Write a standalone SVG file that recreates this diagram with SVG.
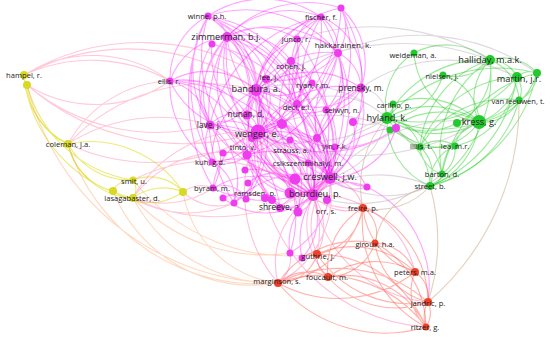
<svg xmlns="http://www.w3.org/2000/svg" width="550" height="337" viewBox="0 0 550 337">
<style>
#edges path{fill:none;stroke-width:1.1}
.p{stroke:#f0f;stroke-opacity:.36}
.g{stroke:#2c2;stroke-opacity:.45}
.y{stroke:#dd2;stroke-opacity:.6}
.r{stroke:#f54;stroke-opacity:.45}
.py{stroke:#f8a;stroke-opacity:.45}
.pr{stroke:#f6a;stroke-opacity:.42}
.pg{stroke:#a9a;stroke-opacity:.38}
.rg{stroke:#ca8;stroke-opacity:.55}
.np{fill:#ee3cee}
.ng{fill:#24c92e}
.ny{fill:#d9d823}
.nr{fill:#ef4129}
text{font-family:"Open Sans","Noto Sans",sans-serif;fill:#222;text-anchor:middle;font-size:7.6px}
.b{font-size:9.2px}
.m{font-size:8.4px}
</style>
<rect width="550" height="337" fill="#fff"/>
<g id="edges">
<path class="p" d="M208 16A26 26 0 0 1 227 37M208 16A80 80 0 0 1 256 90M208 16A115 115 0 0 1 258 132M208 16A180 180 0 0 1 330 178M208 16A185 185 0 0 1 313 195M208 16A95 95 0 0 1 247 115M210 125A100 100 0 0 1 208 16M208 16A100 100 0 0 1 321 17M208 16A120 120 0 0 1 338 53M247 155A130 130 0 0 1 208 16M208 16A130 130 0 0 1 317 138M212 162A150 150 0 0 1 208 16M213 188A180 180 0 0 1 208 16"/>
<path class="p" d="M227 37A85 85 0 0 1 321 17M321 17A40 40 0 0 1 338 53M297 39A30 30 0 0 1 321 17M256 90A88 88 0 0 1 321 17M321 17A118 118 0 0 1 258 132M330 178A145 145 0 0 1 321 17M321 17A160 160 0 0 1 313 195M321 17A65 65 0 0 1 361 88M297 104A80 80 0 0 1 321 17M247 155A150 150 0 0 1 321 17M210 125A140 140 0 0 1 321 17"/>
<path class="p" d="M341 8A45 45 0 0 1 338 53M341 8A75 75 0 0 1 361 88M256 90A110 110 0 0 1 341 8M341 8A140 140 0 0 1 258 132M227 37A110 110 0 0 1 341 8M341 8A120 120 0 0 1 317 138M341 8A150 150 0 0 1 330 178"/>
<path class="p" d="M227 37A50 50 0 0 1 256 90M258 132A90 90 0 0 1 227 37M210 125A80 80 0 0 1 227 37M227 37A75 75 0 0 1 247 115M227 37A50 50 0 0 1 266 79M227 37A60 60 0 0 1 291 61M227 37A65 65 0 0 1 297 39M227 37A100 100 0 0 1 338 53M227 37A150 150 0 0 1 330 178M313 195A160 160 0 0 1 227 37M247 155A105 105 0 0 1 227 37M227 37A80 80 0 0 1 297 104M170 81A65 65 0 0 1 227 37M212 162A115 115 0 0 1 227 37M212 44A55 55 0 0 1 256 90M258 132A90 90 0 0 1 212 44M212 44A160 160 0 0 1 330 178M210 125A75 75 0 0 1 212 44M234 203A170 170 0 0 1 227 37M317 138A120 120 0 0 1 227 37"/>
<path class="p" d="M256 90A60 60 0 0 1 297 39M297 39A40 40 0 0 1 338 53M297 39A25 25 0 0 1 291 61M297 39A95 95 0 0 1 258 132M330 178A130 130 0 0 1 297 39M297 39A145 145 0 0 1 313 195M297 39A120 120 0 0 1 247 155"/>
<path class="p" d="M338 53A40 40 0 0 1 361 88M256 90A85 85 0 0 1 338 53M338 53A110 110 0 0 1 258 132M330 178A115 115 0 0 1 338 53M338 53A130 130 0 0 1 313 195M338 53A55 55 0 0 1 326 110M297 104A60 60 0 0 1 338 53M338 53A75 75 0 0 1 266 79M338 53A80 80 0 0 1 317 138M338 53A130 130 0 0 1 247 155"/>
<path class="p" d="M291 61A45 45 0 0 1 256 90M258 132A75 75 0 0 1 291 61M291 61A28 28 0 0 1 312 83M291 61A40 40 0 0 1 297 104M291 61A110 110 0 0 1 330 178M313 195A120 120 0 0 1 291 61M266 79A15 15 0 0 1 256 90M266 79A50 50 0 0 1 258 132M330 178A100 100 0 0 1 266 79M266 79A110 110 0 0 1 313 195"/>
<path class="p" d="M256 90A40 40 0 0 1 258 132M247 115A25 25 0 0 1 256 90M256 90A50 50 0 0 1 210 125M256 90A100 100 0 0 1 330 178M313 195A110 110 0 0 1 256 90M256 90A60 60 0 0 1 247 155M256 90A40 40 0 0 1 297 104M312 83A50 50 0 0 1 256 90M256 90A90 90 0 0 1 361 88M256 90A75 75 0 0 1 317 138M326 110A65 65 0 0 1 256 90M170 81A75 75 0 0 1 256 90M212 162A75 75 0 0 1 256 90M256 90A120 120 0 0 1 298 212M308 163A80 80 0 0 1 256 90M256 90A100 100 0 0 1 246 199M280 208A110 110 0 0 1 256 90"/>
<path class="p" d="M312 83A25 25 0 0 1 297 104M312 83A70 70 0 0 1 258 132M312 83A90 90 0 0 1 330 178M258 132A100 100 0 0 1 361 88M361 88A85 85 0 0 1 330 178M313 195A100 100 0 0 1 361 88M361 88A35 35 0 0 1 326 110M361 88A30 30 0 0 1 353 122M361 88A60 60 0 0 1 297 104M317 138A60 60 0 0 1 361 88M297 104A70 70 0 0 1 330 178M297 104A40 40 0 0 1 258 132M326 110A80 80 0 0 1 313 195"/>
<path class="p" d="M170 81A55 55 0 0 1 210 125M258 132A90 90 0 0 1 170 81M170 81A155 155 0 0 1 313 195M170 81A165 165 0 0 1 330 178M170 81A70 70 0 0 1 208 16M170 81A75 75 0 0 1 247 115M170 81A90 90 0 0 1 247 155M212 162A90 90 0 0 1 170 81"/>
<path class="p" d="M247 115A20 20 0 0 1 258 132M210 125A35 35 0 0 1 247 115M247 115A95 95 0 0 1 330 178M313 195A90 90 0 0 1 247 115M210 125A45 45 0 0 1 258 132M210 125A40 40 0 0 1 247 155M210 125A110 110 0 0 1 313 195M330 178A120 120 0 0 1 210 125M212 162A35 35 0 0 1 210 125M210 125A60 60 0 0 1 213 188M210 125A70 70 0 0 1 234 203M210 125A100 100 0 0 1 280 208"/>
<path class="p" d="M258 132A75 75 0 0 1 330 178M313 195A75 75 0 0 1 258 132M258 132A22 22 0 0 1 247 155M317 138A55 55 0 0 1 258 132M258 132A55 55 0 0 1 308 163M258 132A75 75 0 0 1 298 212M280 208A70 70 0 0 1 258 132M258 132A60 60 0 0 1 234 203M213 188A65 65 0 0 1 258 132M258 132A50 50 0 0 1 212 162M258 132A25 25 0 0 1 282 124M258 132A110 110 0 0 1 367 187M258 132A115 115 0 0 1 290 253"/>
<path class="p" d="M247 155A80 80 0 0 1 330 178M313 195A70 70 0 0 1 247 155M247 155A35 35 0 0 1 212 162M247 155A40 40 0 0 1 246 199M317 138A40 40 0 0 1 330 178M313 195A55 55 0 0 1 317 138M298 212A70 70 0 0 1 247 155M212 162A100 100 0 0 1 313 195M282 124A70 70 0 0 1 313 195"/>
<path class="p" d="M330 178A25 25 0 0 1 313 195M298 212A45 45 0 0 1 330 178M330 178A55 55 0 0 1 280 208M330 178A80 80 0 0 1 290 253M367 187A35 35 0 0 1 330 178M234 203A95 95 0 0 1 330 178M330 178A110 110 0 0 1 213 188M313 195A20 20 0 0 1 298 212M280 208A35 35 0 0 1 313 195M313 195A60 60 0 0 1 302 258M290 253A60 60 0 0 1 313 195M313 195A70 70 0 0 1 223 198M213 188A90 90 0 0 1 313 195M313 195A50 50 0 0 1 367 187M308 163A35 35 0 0 1 313 195M290 193A50 50 0 0 1 247 155M308 163A25 25 0 0 1 330 178M212 162A40 40 0 0 1 234 203M213 188A25 25 0 0 1 246 199M302 258A80 80 0 0 1 330 178M367 187A55 55 0 0 1 317 138M367 187A110 110 0 0 1 428 302"/>
<path class="p" d="M282 124A60 60 0 0 1 330 178M282 124A45 45 0 0 1 256 90M290 140A50 50 0 0 1 313 195M252 138A60 60 0 0 1 290 193M223 153A60 60 0 0 1 290 193M245 170A45 45 0 0 1 298 212M248 183A40 40 0 0 1 295 179M223 198A50 50 0 0 1 265 198M295 179A40 40 0 0 1 258 132M353 122A50 50 0 0 1 330 178M335 147A40 40 0 0 1 290 193M396 128A120 120 0 0 1 258 132M396 128A70 70 0 0 1 330 178M313 195A90 90 0 0 1 396 128M396 128A90 90 0 0 1 256 90"/>
<path class="pg" d="M387 118A140 140 0 0 1 258 132M256 90A140 140 0 0 1 387 118M387 118A80 80 0 0 1 330 178M313 195A100 100 0 0 1 387 118M479 122A230 230 0 0 1 258 132M330 178A170 170 0 0 1 479 122M256 90A250 250 0 0 1 490 60M430 186A100 100 0 0 1 330 178M313 195A120 120 0 0 1 430 186M258 132A150 150 0 0 1 420 147M442 174A130 130 0 0 1 313 195M361 88A30 30 0 0 1 387 118M387 118A35 35 0 0 1 353 122M297 104A80 80 0 0 1 387 118M338 53A200 200 0 0 1 537 73M297 39A230 230 0 0 1 490 60M361 88A150 150 0 0 1 517 77"/>
<path class="g" d="M490 60A30 30 0 0 1 517 77M490 60A45 45 0 0 1 537 73M479 122A55 55 0 0 1 490 60M490 60A45 45 0 0 1 519 100M387 118A110 110 0 0 1 490 60M414 53A70 70 0 0 1 490 60M490 60A45 45 0 0 1 443 75M420 147A100 100 0 0 1 490 60M490 60A130 130 0 0 1 430 186M442 174A110 110 0 0 1 490 60M490 60A60 60 0 0 1 457 123"/>
<path class="g" d="M517 77A55 55 0 0 1 479 122M517 77A22 22 0 0 1 519 100M517 77A130 130 0 0 1 387 118M517 77A20 20 0 0 1 537 73M420 147A110 110 0 0 1 517 77M517 77A140 140 0 0 1 430 186M517 77A80 80 0 0 1 455 146M537 73A70 70 0 0 1 479 122M537 73A30 30 0 0 1 519 100M387 118A150 150 0 0 1 537 73M537 73A150 150 0 0 1 430 186M442 174A130 130 0 0 1 537 73"/>
<path class="g" d="M519 100A40 40 0 0 1 479 122M519 100A125 125 0 0 1 387 118M420 147A100 100 0 0 1 519 100M519 100A120 120 0 0 1 430 186M387 118A85 85 0 0 1 479 122M479 122A85 85 0 0 1 387 118M479 122A60 60 0 0 1 420 147M455 146A30 30 0 0 1 479 122M479 122A75 75 0 0 1 430 186M442 174A60 60 0 0 1 479 122M457 123A20 20 0 0 1 479 122M457 123A65 65 0 0 1 387 118"/>
<path class="g" d="M420 147A30 30 0 0 1 455 146M420 147A35 35 0 0 1 430 186M442 174A30 30 0 0 1 420 147M455 146A30 30 0 0 1 442 174M430 186A40 40 0 0 1 455 146M387 118A40 40 0 0 1 420 147M430 186A70 70 0 0 1 387 118M393 104A15 15 0 0 1 387 118M443 75A60 60 0 0 1 387 118M387 118A60 60 0 0 1 414 53M393 104A80 80 0 0 1 479 122M443 75A50 50 0 0 1 479 122M479 122A75 75 0 0 1 414 53M442 174A14 14 0 0 1 430 186M387 118A70 70 0 0 1 442 174M390 130A80 80 0 0 1 479 122M390 130A60 60 0 0 1 430 186M420 147A40 40 0 0 1 393 104M455 146A65 65 0 0 1 387 118"/>
<path class="r" d="M363 208A30 30 0 0 1 375 243M415 272A75 75 0 0 1 363 208M363 208A100 100 0 0 1 428 302M426 327A120 120 0 0 1 363 208M363 208A100 100 0 0 1 278 283M328 277A70 70 0 0 1 363 208M363 208A55 55 0 0 1 317 254M375 243A45 45 0 0 1 415 272M428 302A70 70 0 0 1 375 243M375 243A95 95 0 0 1 426 327M278 283A95 95 0 0 1 375 243M375 243A50 50 0 0 1 328 277"/>
<path class="r" d="M317 254A40 40 0 0 1 278 283M328 277A25 25 0 0 1 317 254M317 254A90 90 0 0 1 415 272M428 302A110 110 0 0 1 317 254M317 254A120 120 0 0 1 426 327M278 283A45 45 0 0 1 328 277M415 272A125 125 0 0 1 278 283M278 283A135 135 0 0 1 428 302M426 327A140 140 0 0 1 278 283M278 283A130 130 0 0 1 426 327M328 277A80 80 0 0 1 415 272M428 302A90 90 0 0 1 328 277M328 277A90 90 0 0 1 426 327M415 272A30 30 0 0 1 428 302M426 327A50 50 0 0 1 415 272M428 302A25 25 0 0 1 426 327"/>
<path class="r" d="M426 327A30 30 0 0 1 428 302" stroke-width="2"/>
<path class="pr" d="M278 283A80 80 0 0 1 313 195M330 178A100 100 0 0 1 278 283M278 283A140 140 0 0 1 258 132M313 195A55 55 0 0 1 317 254M258 132A110 110 0 0 1 317 254M317 254A70 70 0 0 1 330 178M330 178A40 40 0 0 1 363 208M363 208A45 45 0 0 1 313 195M363 208A100 100 0 0 1 258 132M328 277A75 75 0 0 1 313 195M313 195A100 100 0 0 1 415 272M426 327A180 180 0 0 1 258 132M428 302A130 130 0 0 1 313 195M290 253A30 30 0 0 1 278 283M302 258A15 15 0 0 1 317 254"/>
<path class="rg" d="M430 186A200 200 0 0 1 428 302M519 100A260 260 0 0 1 428 302M430 186A70 70 0 0 1 363 208M363 208A100 100 0 0 1 387 118M375 243A70 70 0 0 1 430 186"/>
<path class="y" d="M68 144A70 70 0 0 1 27 85" stroke-width="2.6"/>
<path class="y" d="M133 198A70 70 0 0 1 68 144" stroke-width="2"/>
<path class="y" d="M68 144A80 80 0 0 1 24 75M133 180A70 70 0 0 1 68 144M113 191A60 60 0 0 1 68 144M133 198A140 140 0 0 1 24 75M133 180A130 130 0 0 1 27 85M133 180A15 15 0 0 1 133 198M133 198A50 50 0 0 1 183 192M133 180A45 45 0 0 1 183 192M183 192A60 60 0 0 1 113 191M68 144A110 110 0 0 1 183 192M113 191A20 20 0 0 1 133 180"/>
<path class="py" d="M24 75A130 130 0 0 1 170 81M24 75A160 160 0 0 1 170 81M24 75A230 230 0 0 1 266 79M24 75A220 220 0 0 1 256 90M170 81A130 130 0 0 1 27 85M210 125A200 200 0 0 1 27 85M258 132A240 240 0 0 1 27 85M68 144A120 120 0 0 1 170 81M68 144A170 170 0 0 1 210 125M258 132A200 200 0 0 1 68 144M68 144A190 190 0 0 1 256 90M133 198A130 130 0 0 1 258 132M213 188A90 90 0 0 1 133 198M133 198A110 110 0 0 1 247 155M234 203A110 110 0 0 1 133 198M133 180A170 170 0 0 1 313 195M330 178A190 190 0 0 1 133 198M183 192A30 30 0 0 1 213 188M234 203A50 50 0 0 1 183 192"/>
<path class="py" style="stroke:#fa7" d="M278 283A160 160 0 0 1 133 198M278 283A150 150 0 0 1 113 191M278 283A200 200 0 0 1 68 144M317 254A200 200 0 0 1 133 180M278 283A260 260 0 0 1 27 85M278 283A110 110 0 0 1 183 192M290 253A180 180 0 0 1 133 198"/>
</g>
<g id="n-winne"><circle class="np" cx="208" cy="16" r="3.5"/><text x="207" y="18.6">winne, p.h.</text></g>
<g id="n-zimmerman"><circle class="np" cx="212" cy="44" r="3.5"/><circle class="np" cx="227" cy="37" r="5"/><text class="b" x="226" y="40.3">zimmerman, b.j.</text></g>
<g id="n-fischer"><circle class="np" cx="341" cy="8" r="3.5"/><circle class="np" cx="321" cy="17" r="3.5"/><text x="321" y="19.6">fischer, f.</text></g>
<g id="n-junco"><circle class="np" cx="297" cy="39" r="3.5"/><text x="296" y="41.6">junco, r.</text></g>
<g id="n-hakkarainen"><circle class="np" cx="338" cy="53" r="4"/><text style="font-size:8px" x="343" y="47.8">hakkarainen, k.</text></g>
<g id="n-cohen"><circle class="np" cx="291" cy="61" r="4"/><text x="291" y="68.6">cohen, j.</text></g>
<g id="n-lee"><circle class="np" cx="266" cy="79" r="4"/><text x="269" y="79.6">lee, j.</text></g>
<g id="n-ellis"><circle class="np" cx="170" cy="81" r="3.5"/><text x="169" y="83.6">ellis, r.</text></g>
<g id="n-bandura"><circle class="np" cx="256" cy="90" r="6"/><text class="b" x="256" y="92.3">bandura, a.</text></g>
<g id="n-ryan"><circle class="np" cx="312" cy="83" r="3.5"/><text x="313" y="87.6">ryan, r.m.</text></g>
<g id="n-prensky"><circle class="np" cx="361" cy="88" r="4.5"/><text class="m" x="361" y="91">prensky, m.</text></g>
<g id="n-deci"><circle class="np" cx="297" cy="104" r="4"/><text x="297" y="109.6">deci, e.l.</text></g>
<g id="n-selwyn"><circle class="np" cx="326" cy="110" r="3.5"/><circle class="np" cx="353" cy="122" r="4"/><text x="342" y="112.6">selwyn, n.</text></g>
<g id="n-nunan"><circle class="np" cx="247" cy="115" r="4.5"/><text class="m" x="246" y="117">nunan, d.</text></g>
<g id="n-lave"><circle class="np" cx="210" cy="125" r="4.5"/><text class="m" x="209" y="128">lave, j.</text></g>
<g id="n-wenger"><circle class="np" cx="282" cy="124" r="5"/><circle class="np" cx="252" cy="138" r="4"/><circle class="np" cx="290" cy="140" r="3.5"/><circle class="np" cx="258" cy="132" r="7.5"/><text class="b" x="257" y="137.3">wenger, e.</text></g>
<g id="n-tinto"><circle class="np" cx="223" cy="153" r="3.5"/><circle class="np" cx="247" cy="155" r="4.5"/><text x="243" y="149.6">tinto, v.</text></g>
<g id="n-strauss"><text x="291" y="152.6">strauss, a.</text></g>
<g id="n-yin"><circle class="np" cx="317" cy="138" r="4"/><circle class="np" cx="335" cy="147" r="3.5"/><text x="335" y="148.6">yin, r.k.</text></g>
<g id="n-kuh"><circle class="np" cx="212" cy="162" r="3.5"/><text x="210" y="164.6">kuh, g.d.</text></g>
<g id="n-csikszentmihalyi"><circle class="np" cx="308" cy="163" r="3.5"/><text x="308" y="165.6">csikszentmihalyi, m.</text></g>
<g id="n-creswell"><circle class="np" cx="295" cy="179" r="5.5"/><circle class="np" cx="330" cy="178" r="6"/><text class="b" x="330" y="180.3">creswell, j.w.</text></g>
<g id="n-byram"><circle class="np" cx="213" cy="188" r="3.5"/><text x="212" y="190.6">byram, m.</text></g>
<g id="n-ramsden"><circle class="np" cx="245" cy="170" r="3.5"/><circle class="np" cx="248" cy="183" r="3.5"/><circle class="np" cx="223" cy="198" r="3.5"/><circle class="np" cx="234" cy="203" r="3.5"/><circle class="np" cx="246" cy="199" r="3.5"/><text x="255" y="195.6">ramsden, p.</text></g>
<g id="n-bourdieu"><circle class="np" cx="265" cy="198" r="4"/><circle class="np" cx="272" cy="200" r="4"/><circle class="np" cx="327" cy="200" r="4"/><circle class="np" cx="290" cy="193" r="5.5"/><circle class="np" cx="313" cy="195" r="6"/><text class="b" x="315" y="197.3">bourdieu, p.</text></g>
<g id="n-shreeve"><circle class="np" cx="280" cy="208" r="4"/><text class="m" x="280" y="210">shreeve, a.</text></g>
<g id="n-orr"><circle class="np" cx="298" cy="212" r="4.5"/><text x="326" y="213.6">orr, s.</text></g>
<g id="n-pink-extra"><circle class="np" cx="367" cy="187" r="3.5"/><circle class="np" cx="290" cy="253" r="3.5"/><circle class="np" cx="302" cy="258" r="3.5"/></g>
<g id="n-hampel"><circle class="ny" cx="24" cy="75" r="4"/><circle class="ny" cx="27" cy="85" r="4"/><text x="24" y="77.6">hampel, r.</text></g>
<g id="n-coleman"><circle class="ny" cx="68" cy="144" r="4"/><text x="68" y="146.6">coleman, j.a.</text></g>
<g id="n-smit"><circle class="ny" cx="133" cy="180" r="3.5"/><text x="134" y="183.6">smit, u.</text></g>
<g id="n-lasagabaster"><circle class="ny" cx="113" cy="191" r="4"/><circle class="ny" cx="183" cy="192" r="4"/><circle class="ny" cx="133" cy="198" r="4"/><text x="132" y="200.6">lasagabaster, d.</text></g>
<g id="n-weideman"><circle class="ng" cx="414" cy="53" r="3.5"/><text x="413" y="57.6">weideman, a.</text></g>
<g id="n-halliday"><circle class="ng" cx="490" cy="60" r="5"/><text class="b" x="490" y="63.3">halliday, m.a.k.</text></g>
<g id="n-nielsen"><circle class="ng" cx="443" cy="75" r="3.5"/><text x="442" y="78.6">nielsen, j.</text></g>
<g id="n-martin"><circle class="ng" cx="537" cy="73" r="4"/><circle class="ng" cx="517" cy="77" r="5"/><text class="b" x="519" y="82.3">martin, j.r.</text></g>
<g id="n-carlino"><circle class="ng" cx="393" cy="104" r="3.5"/><text x="394" y="107.6">carlino, p.</text></g>
<g id="n-hyland"><circle class="ng" cx="390" cy="130" r="3.5"/><circle class="ng" cx="387" cy="118" r="6"/><circle class="np" cx="396" cy="128" r="4"/><text class="b" x="387" y="121.3">hyland, k.</text></g>
<g id="n-vanleeuwen"><circle class="ng" cx="519" cy="100" r="3.5"/><text x="518" y="103.6">van leeuwen, t.</text></g>
<g id="n-kress"><circle class="ng" cx="457" cy="123" r="4"/><circle class="ng" cx="479" cy="122" r="7"/><text class="b" x="479" y="125.3">kress, g.</text></g>
<g id="n-lillis"><circle class="ng" cx="420" cy="147" r="3.5"/><text x="421" y="149" style="fill:#222">lillis, t.</text></g>
<g id="n-lea"><circle class="ng" cx="455" cy="146" r="3.5"/><text x="455" y="148.6">lea, m.r.</text></g>
<g id="n-barton"><circle class="ng" cx="442" cy="174" r="3.5"/><text x="442" y="176.6">barton, d.</text></g>
<g id="n-street"><circle class="ng" cx="430" cy="186" r="4"/><text x="430" y="188.6">street, b.</text></g>
<g id="n-freire"><circle class="nr" cx="363" cy="208" r="4"/><text x="363" y="210.6">freire, p.</text></g>
<g id="n-giroux"><circle class="nr" cx="375" cy="243" r="3.5"/><text x="375" y="246.6">giroux, h.a.</text></g>
<g id="n-guthrie"><circle class="nr" cx="317" cy="254" r="4"/><text x="318" y="258.6">guthrie, j.</text></g>
<g id="n-marginson"><circle class="nr" cx="278" cy="283" r="4"/><text x="277" y="283.6">marginson, s.</text></g>
<g id="n-foucault"><circle class="nr" cx="328" cy="277" r="4"/><text x="327" y="279.6">foucault, m.</text></g>
<g id="n-peters"><circle class="nr" cx="415" cy="272" r="4"/><text x="415" y="274.6">peters, m.a.</text></g>
<g id="n-jandric"><circle class="nr" cx="428" cy="302" r="4"/><text x="428" y="305.6">jandric, p.</text></g>
<g id="n-ritzer"><circle class="nr" cx="426" cy="327" r="3.5"/><text x="425" y="329.6">ritzer, g.</text></g>
</svg>
